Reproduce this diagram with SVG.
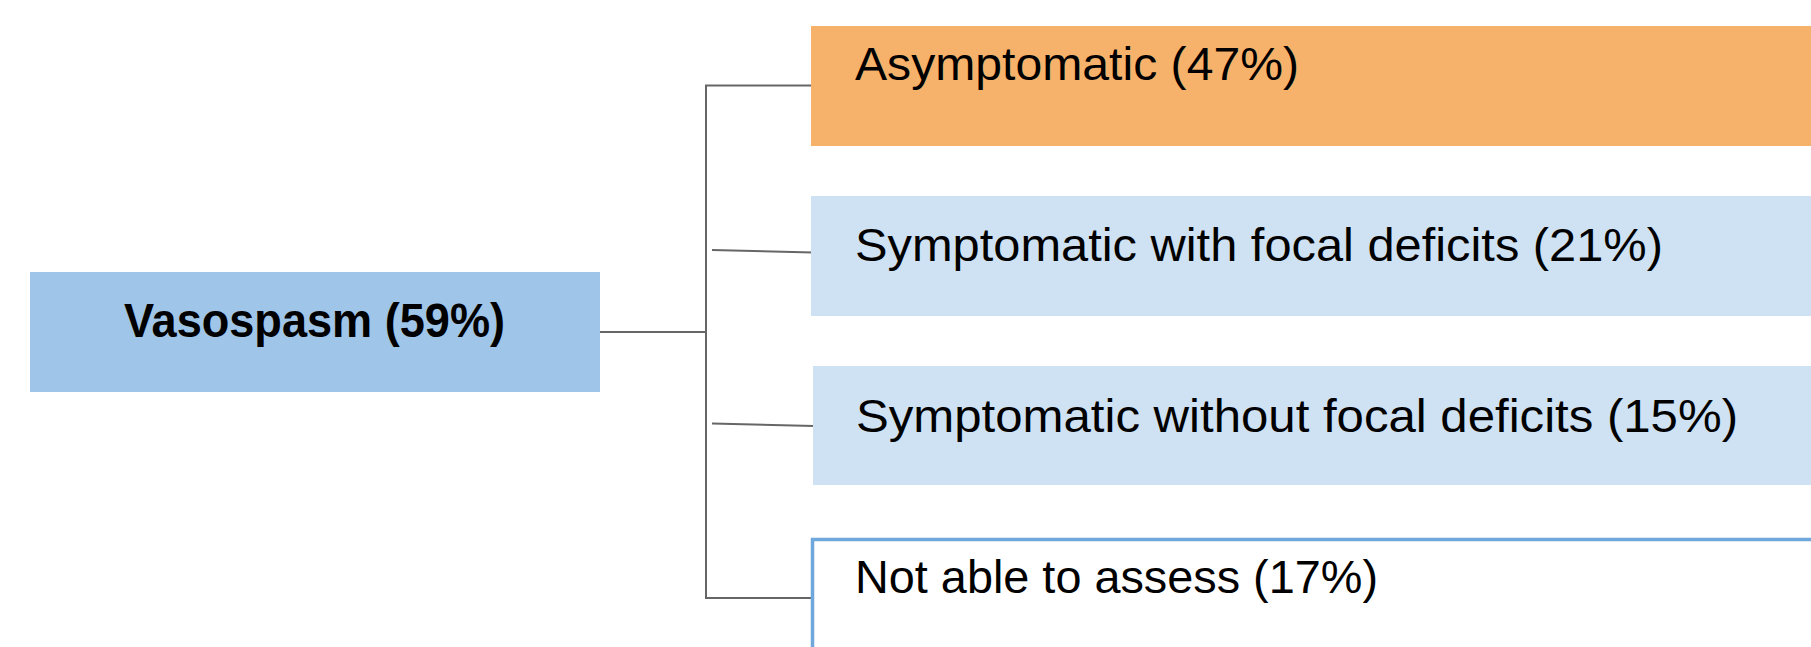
<svg xmlns="http://www.w3.org/2000/svg" width="1811" height="647" viewBox="0 0 1811 647">
<style>
  .lbl { font-family: "Liberation Sans", Arial, sans-serif; font-size: 46px; fill: #000; }
  .bold { font-weight: bold; font-size: 48px; }
  .conn { stroke: #666; stroke-width: 2; fill: none; }
</style>
<rect width="1811" height="647" fill="#fff"/>
<g id="connectors">
  <polyline class="conn" points="600,332 706,332"/>
  <polyline class="conn" points="812,85.5 706,85.5 706,598 812,598"/>
  <line class="conn" x1="712" y1="250" x2="813" y2="252.5"/>
  <line class="conn" x1="712" y1="423.5" x2="814" y2="426"/>
</g>
<g id="vasospasm">
  <rect x="30" y="272" width="570" height="120" fill="#9fc5e8"/>
  <text class="lbl bold" x="124" y="337" textLength="381" lengthAdjust="spacingAndGlyphs">Vasospasm (59%)</text>
</g>
<g id="asymptomatic">
  <rect x="811" y="26" width="1000" height="120" fill="#f6b26b"/>
  <text class="lbl" x="855" y="80" textLength="444" lengthAdjust="spacingAndGlyphs">Asymptomatic (47%)</text>
</g>
<g id="focal">
  <rect x="811" y="196" width="1000" height="120" fill="#cfe2f3"/>
  <text class="lbl" x="855" y="261" textLength="808" lengthAdjust="spacingAndGlyphs">Symptomatic with focal deficits (21%)</text>
</g>
<g id="nonfocal">
  <rect x="813" y="366" width="998" height="119" fill="#cfe2f3"/>
  <text class="lbl" x="856" y="432" textLength="882" lengthAdjust="spacingAndGlyphs">Symptomatic without focal deficits (15%)</text>
</g>
<g id="notassess">
  <rect x="812.5" y="539.5" width="1010" height="120" fill="#fff" stroke="#6fa8dc" stroke-width="3.5"/>
  <text class="lbl" x="855" y="593" textLength="523" lengthAdjust="spacingAndGlyphs">Not able to assess (17%)</text>
</g>
</svg>
